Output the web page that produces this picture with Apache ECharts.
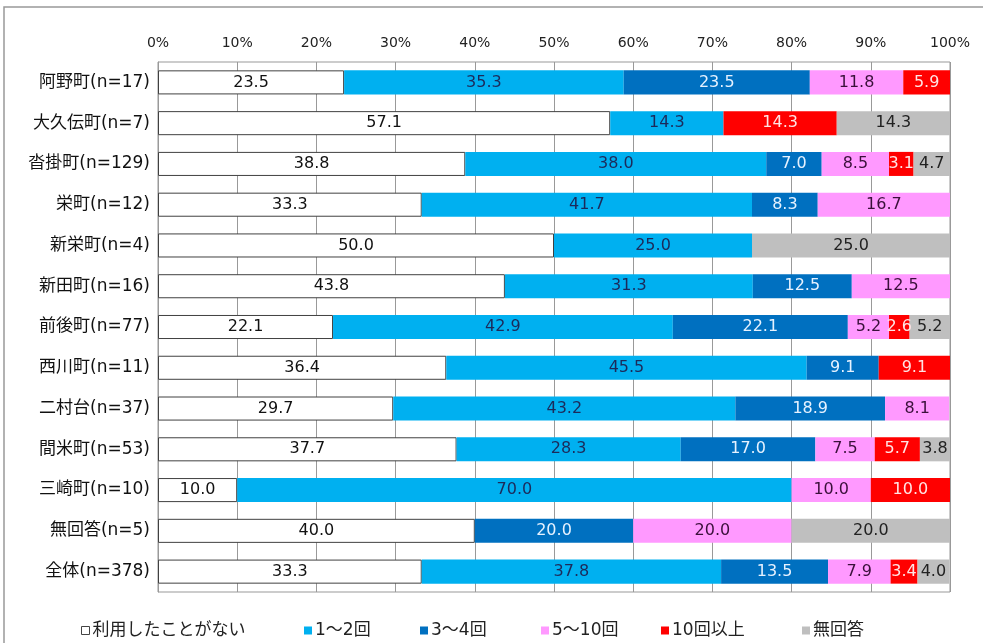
<!DOCTYPE html>
<html><head><meta charset="utf-8">
<script src="https://cdn.jsdelivr.net/npm/echarts@6/dist/echarts.min.js"></script>
<style>html,body{margin:0;padding:0;background:#fff}#c{width:983px;height:643px}</style>
</head><body><div id="c"></div>
<script>
const categories = ['阿野町(n=17)','大久伝町(n=7)','沓掛町(n=129)','栄町(n=12)','新栄町(n=4)','新田町(n=16)','前後町(n=77)','西川町(n=11)','二村台(n=37)','間米町(n=53)','三崎町(n=10)','無回答(n=5)','全体(n=378)'];
const seriesNames = ['利用したことがない','1～2回','3～4回','5～10回','10回以上','無回答'];
const never   = [23.5,57.1,38.8,33.3,50.0,43.8,22.1,36.4,29.7,37.7,10.0,40.0,33.3];
const times12 = [35.3,14.3,38.0,41.7,25.0,31.3,42.9,45.5,43.2,28.3,70.0,0,37.8];
const times34 = [23.5,0,7.0,8.3,0,12.5,22.1,9.1,18.9,17.0,0,20.0,13.5];
const times510= [11.8,0,8.5,16.7,0,12.5,5.2,0,8.1,7.5,10.0,20.0,7.9];
const times10p= [5.9,14.3,3.1,0,0,0,2.6,9.1,0,5.7,10.0,0,3.4];
const noAns   = [0,14.3,4.7,0,25.0,0,5.2,0,0,3.8,0,20.0,4.0];
const xTicks = [0,10,20,30,40,50,60,70,80,90,100];

const values = [never,times12,times34,times510,times10p,noAns];
const colors = ['#FFFFFF','#00B0F0','#0070C0','#FF99FF','#FF0000','#BFBFBF'];
const labelColors = ['#111','#1C2A5A','#E6F2FF','#3A103A','#FFE4E4','#222'];
const font = '"DejaVu Sans", "Noto Sans CJK JP", sans-serif';
const legendLefts = [76, 299, 415, 536, 656, 797];

const series = values.map((arr,i)=>({
  name: seriesNames[i],
  type: 'bar',
  stack: 'total',
  barWidth: '59%',
  data: arr.map(v => v === 0 ? null : v),
  itemStyle: i===0 ? {color: colors[i], borderColor:'#404040', borderWidth:1} : {color: colors[i]},
  label: {
    show: true, position: 'inside',
    color: labelColors[i], fontSize: 16, fontFamily: font,
    formatter: p => p.value == null ? '' : Number(p.value).toFixed(1)
  },
  emphasis: {disabled: true}
}));

const legends = seriesNames.map((n,i)=>({
  top: 617, left: legendLefts[i], itemWidth: 8, itemHeight: 8, itemGap: 4,
  textStyle: {color: '#222', fontSize: 17, fontFamily: font, padding: [0,0,0,-2]},
  selectedMode: false,
  data: [i===0 ? {name:n, icon:'rect', itemStyle:{color:'#fff', borderColor:'#444', borderWidth:1}} : {name:n, icon:'rect'}]
}));

const chart = echarts.init(document.getElementById('c'));
chart.setOption({
  animation: false,
  grid: {left: 158, right: 33, top: 62, bottom: 51, show: true, borderColor: '#999', borderWidth: 1},
  xAxis: {
    type: 'value', position: 'top', min: 0, max: 100, interval: 10,
    axisLabel: {formatter: '{value}%', color: '#222', fontSize: 14, fontFamily: font, margin: 12},
    axisLine: {show: false}, axisTick: {show: false},
    splitLine: {show: true, lineStyle: {color: '#999', width: 1}}
  },
  yAxis: {
    type: 'category', data: categories, inverse: true,
    axisLabel: {color: '#111', fontSize: 17, fontFamily: font, margin: 8},
    axisLine: {show: true, lineStyle: {color: '#999'}}, axisTick: {show: false}
  },
  legend: legends,
  graphic: [{type:'rect', shape:{x:4, y:7, width:990, height:650}, style:{fill:'none', stroke:'#999', lineWidth:1.5}, silent:true, z:-1}],
  series: series
});
</script></body></html>
